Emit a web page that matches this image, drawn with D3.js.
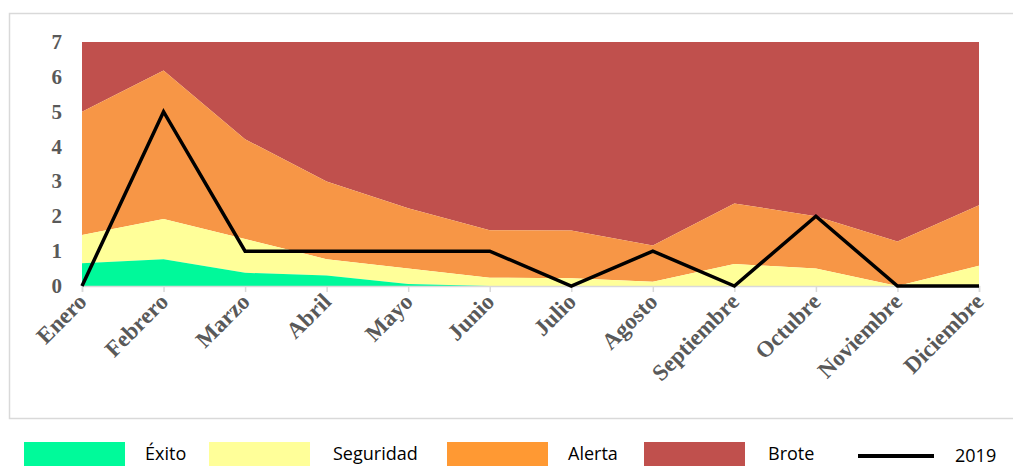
<!doctype html>
<html>
<head>
    <meta charset="utf-8">
    <script src="https://d3js.org/d3.v7.min.js"></script>
</head>
<style>
    body { margin: 0; background: #fff; }
    svg text.tick-label {
        fill: #595959;
        font-family: "Liberation Serif", "Times New Roman", serif;
        font-weight: bold;
    }
    svg text.legend-label {
        fill: #000;
        font-family: "Open Sans", sans-serif;
        font-size: 18px;
    }
</style>
<body>
<script>
    // months on the x axis
    var months = ["Enero", "Febrero", "Marzo", "Abril", "Mayo", "Junio",
                  "Julio", "Agosto", "Septiembre", "Octubre", "Noviembre", "Diciembre"];

    // upper limit of each zone (cumulative)
    var exito     = [0.65, 0.77, 0.38, 0.30, 0.06, 0, 0, 0, 0, 0, 0, 0];
    var seguridad = [1.46, 1.92, 1.35, 0.77, 0.50, 0.24, 0.22, 0.12, 0.63, 0.50, 0, 0.58];
    var alerta    = [5.0, 6.18, 4.21, 3.0, 2.23, 1.6, 1.59, 1.16, 2.37, 2.0, 1.28, 2.32];
    var brote     = [7, 7, 7, 7, 7, 7, 7, 7, 7, 7, 7, 7];

    // cases in 2019
    var cases2019 = [0, 5, 1, 1, 1, 1, 0, 1, 0, 2, 0, 0];

    var yTicks = [0, 1, 2, 3, 4, 5, 6, 7];

    var width = 1013, height = 466;

    var svg = d3.select("body").append("svg")
        .attr("width", width)
        .attr("height", height);

    // chart frame
    svg.append("rect")
        .attr("x", 9.5).attr("y", 13.5)
        .attr("width", 1010).attr("height", 405)
        .attr("fill", "none")
        .attr("stroke", "#d9d9d9")
        .attr("stroke-width", 1.5);

    var x = d3.scalePoint().domain(months).range([82, 979]);
    var y = d3.scaleLinear().domain([0, 7]).range([286, 42]);

    // zones drawn back to front: each one fills from its lower limit to its upper limit
    var zones = [
        { name: "Brote",     lo: alerta,    hi: brote,     color: "#c0504d" },
        { name: "Alerta",    lo: seguridad, hi: alerta,    color: "#f79646" },
        { name: "Seguridad", lo: exito,     hi: seguridad, color: "#ffff99" },
        { name: "Éxito",     lo: null,      hi: exito,     color: "#00f99a" }
    ];

    var area = function (z) {
        return d3.area()
            .x(function (d, i) { return x(months[i]); })
            .y0(function (d, i) { return y(z.lo ? z.lo[i] : 0); })
            .y1(function (d) { return y(d); })(z.hi);
    };

    svg.selectAll("path.zone")
        .data(zones)
        .enter()
        .append("path")
        .attr("class", "zone")
        .attr("d", area)
        .attr("fill", function (d) { return d.color; });

    // x axis line + ticks
    var xAxis = svg.append("g")
        .attr("transform", "translate(0,286)")
        .call(d3.axisBottom(x).tickSize(6).tickFormat(""));
    xAxis.select(".domain").attr("stroke", "#d9d9d9").attr("stroke-width", 1.5);
    xAxis.selectAll(".tick line").attr("stroke", "#d9d9d9").attr("stroke-width", 1.5);

    // x labels, rotated
    svg.selectAll("text.xlab")
        .data(months)
        .enter()
        .append("text")
        .attr("class", "tick-label xlab")
        .attr("text-anchor", "end")
        .style("font-size", "23px")
        .attr("transform", function (d) {
            return "translate(" + (x(d) + 6) + ",303) rotate(-45)";
        })
        .text(function (d) { return d; });

    // y labels
    svg.selectAll("text.ylab")
        .data(yTicks)
        .enter()
        .append("text")
        .attr("class", "tick-label ylab")
        .attr("text-anchor", "end")
        .style("font-size", "21px")
        .attr("x", 62)
        .attr("y", function (d) { return y(d) + 7; })
        .text(function (d) { return d; });

    // 2019 line
    var line = d3.line()
        .x(function (d, i) { return x(months[i]); })
        .y(function (d) { return y(d); });

    svg.append("path")
        .datum(cases2019)
        .attr("d", line)
        .attr("fill", "none")
        .attr("stroke", "#000")
        .attr("stroke-width", 3.5);

    // legend
    var legend = [
        { name: "Éxito",     color: "#00fa9a", sx: 24,  tx: 145 },
        { name: "Seguridad", color: "#ffff99", sx: 209, tx: 333 },
        { name: "Alerta",    color: "#ff9933", sx: 447, tx: 568 },
        { name: "Brote",     color: "#c0504d", sx: 644, tx: 768 }
    ];

    var lg = svg.selectAll("g.legend")
        .data(legend)
        .enter()
        .append("g")
        .attr("class", "legend");

    lg.append("rect")
        .attr("x", function (d) { return d.sx; })
        .attr("y", 442)
        .attr("width", 101)
        .attr("height", 30)
        .attr("fill", function (d) { return d.color; });

    lg.append("text")
        .attr("class", "legend-label")
        .attr("x", function (d) { return d.tx; })
        .attr("y", 460)
        .text(function (d) { return d.name; });

    svg.append("line")
        .attr("x1", 858).attr("x2", 934)
        .attr("y1", 456).attr("y2", 456)
        .attr("stroke", "#000")
        .attr("stroke-width", 4);

    svg.append("text")
        .attr("class", "legend-label")
        .attr("x", 955)
        .attr("y", 462)
        .text("2019");
</script>
</body>
</html>
